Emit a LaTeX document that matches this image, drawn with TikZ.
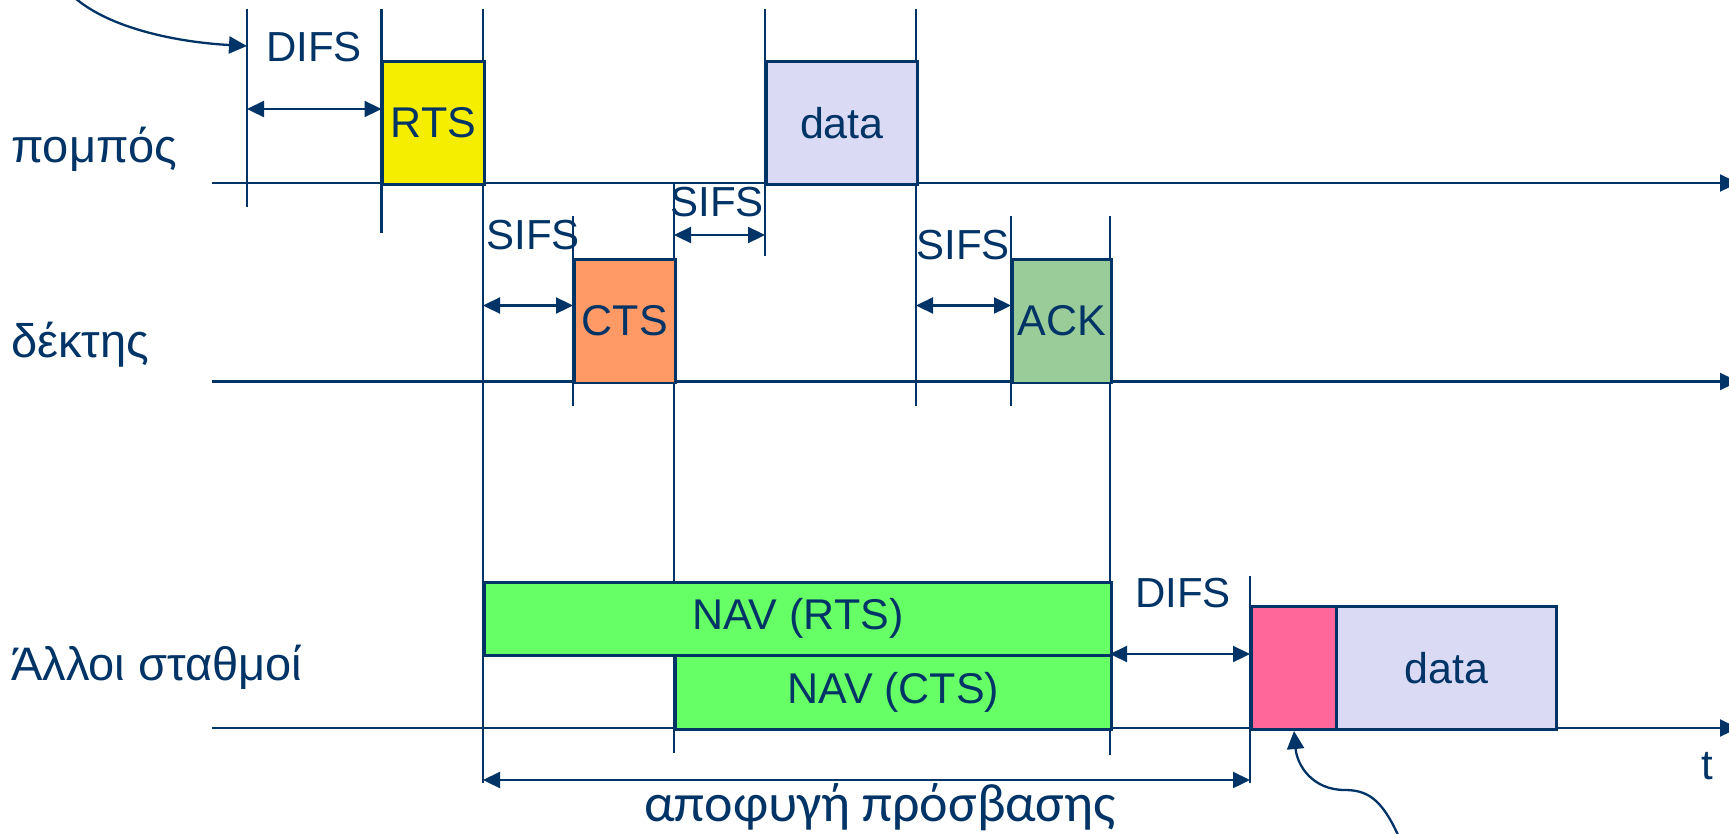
\documentclass[tikz,border=0pt]{standalone}
\usepackage{fontspec}
\setmainfont{Liberation Sans}
\newfontfamily\handfont{Carlito}
\usetikzlibrary{arrows.meta}
\definecolor{navy}{RGB}{0,51,102}
\definecolor{rtsyellow}{RGB}{245,238,0}
\definecolor{ctsorange}{RGB}{255,153,102}
\definecolor{ackgreen}{RGB}{153,204,153}
\definecolor{navgreen}{RGB}{102,255,102}
\definecolor{datalav}{RGB}{218,218,245}
\definecolor{pinkc}{RGB}{255,102,153}
\begin{document}
\begin{tikzpicture}[x=1pt,y=-1pt,
  line/.style={navy, line width=2.3pt},
  tipend/.style={-{Triangle[length=18pt,width=17pt]}},
  twoend/.style={{Triangle[length=17pt,width=16pt]}-{Triangle[length=17pt,width=16pt]}},
  lbl/.style={text=navy, font=\fontsize{42}{48}\selectfont, inner sep=0pt},
  side/.style={text=navy, font=\fontsize{47}{54}\selectfont, inner sep=0pt, anchor=west},
  frame/.style={draw=navy, line width=2.7pt, inner sep=0pt, text=navy, font=\fontsize{43}{48}\selectfont, anchor=north west}
]
\useasboundingbox (0,0) rectangle (1729,833);

% time axes
\coordinate (s0) at (212,183); \coordinate (s1) at (1738,183);
\coordinate (r0) at (212,381.5); \coordinate (r1) at (1738,381.5);
\coordinate (o0) at (212,728); \coordinate (o1) at (1738,728);
\draw[line,tipend] (s0) -- (s1);
\draw[line,tipend] (r0) -- (r1);
\draw[line,tipend] (o0) -- (o1);

% vertical markers
\draw[line] (247,9) -- (247,207);
\draw[line] (381.5,9) -- (381.5,233);
\draw[line] (483,9) -- (483,783);
\draw[line] (765,9) -- (765,256);
\draw[line] (916,9) -- (916,406);
\draw[line] (573,216) -- (573,406);
\draw[line] (674,182) -- (674,753);
\draw[line] (1011,216) -- (1011,406);
\draw[line] (1110,216) -- (1110,755);
\draw[line] (1250,576) -- (1250,783);

% boxes
\node[frame, fill=rtsyellow, minimum width=101.5pt, minimum height=123pt] (rts) at (381.5,60) {RTS};
\node[frame, fill=datalav, minimum width=151pt, minimum height=123pt] (data1) at (765,60) {data};
\node[frame, fill=ctsorange, minimum width=101pt, minimum height=123.5pt] (cts) at (573,258) {CTS};
\node[frame, fill=ackgreen, minimum width=99pt, minimum height=123.5pt] (ack) at (1011,258) {ACK};
\node[frame, fill=navgreen, minimum width=627pt, minimum height=73pt] (navrts) at (483,581) {NAV (RTS)};
\node[frame, fill=navgreen, minimum width=436pt, minimum height=74pt] (navcts) at (674,654) {NAV (CTS)};
\node[frame, fill=pinkc, minimum width=85pt, minimum height=123pt] (pink) at (1250,605) {};
\node[frame, fill=datalav, minimum width=220pt, minimum height=123pt] (data2) at (1335,605) {data};

% dimension arrows
\coordinate (d1a) at (247,109); \coordinate (d1b) at (381.5,109);
\coordinate (s1a) at (483,305.5); \coordinate (s1b) at (573,305.5);
\coordinate (s2a) at (674,235); \coordinate (s2b) at (765,235);
\coordinate (s3a) at (916,305.5); \coordinate (s3b) at (1011,305.5);
\coordinate (d2a) at (1110,654); \coordinate (d2b) at (1250,654);
\coordinate (ava) at (483,780); \coordinate (avb) at (1250,780);
\draw[line,twoend] (d1a) -- (d1b);
\draw[line,twoend] (s1a) -- (s1b);
\draw[line,twoend] (s2a) -- (s2b);
\draw[line,twoend] (s3a) -- (s3b);
\draw[line,twoend] (d2a) -- (d2b);
\draw[line,twoend] (ava) -- (avb);

% labels
\node[lbl] (ldifs1) at (314,47) {DIFS};
\node[lbl] (lsifs1) at (533,235) {SIFS};
\node[lbl] (lsifs2) at (717,202) {SIFS};
\node[lbl] (lsifs3) at (963,245) {SIFS};
\node[lbl] (ldifs2) at (1183,593) {DIFS};
\node[lbl] (lt) at (1707,766) {t};
\node[side] (lsend) at (11,149) {πομπός};
\node[side] (lrecv) at (11,345) {δέκτης};
\node[side] (lother) at (11,667) {Άλλοι σταθμοί};
\node[text=navy, inner sep=0pt, anchor=base, font=\handfont\fontsize{54}{60}\selectfont] (lavoid) at (880,821) {αποφυγή πρόσβασης};

% curved pointers
\coordinate (c1s) at (75,-2);
\coordinate (c1e) at (247,46);
\draw[line,tipend] (c1s) .. controls (110,28) and (175,42) .. (c1e);
\coordinate (c2s) at (1398,835);
\coordinate (c2m) at (1345,790);
\coordinate (c2e) at (1294,731);
\draw[line,tipend] (c2s) .. controls (1382,800) and (1368,790) .. (c2m) .. controls (1312,790) and (1297,765) .. (c2e);
\end{tikzpicture}
\end{document}
